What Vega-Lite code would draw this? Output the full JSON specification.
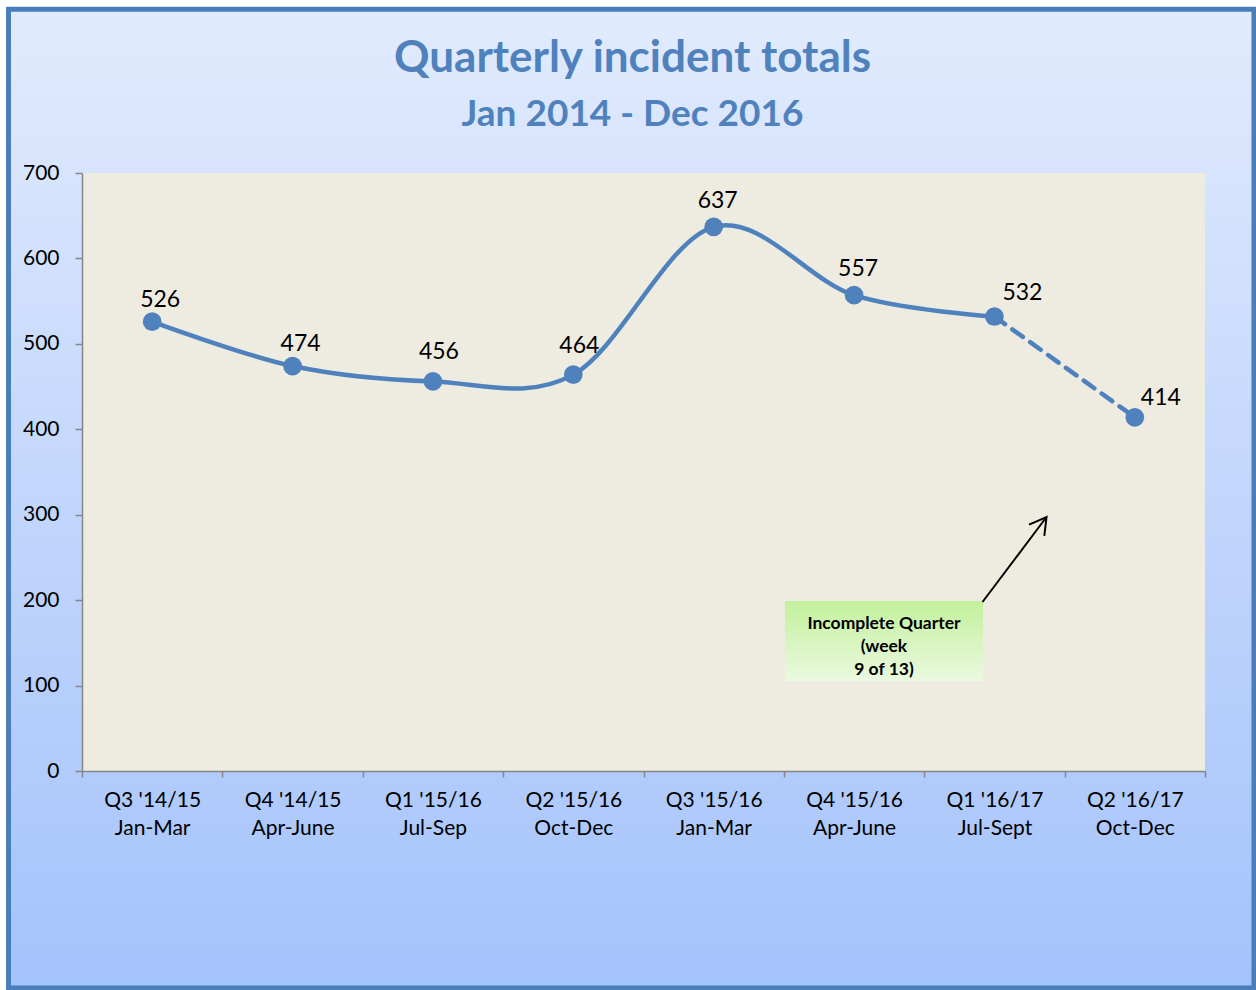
{
  "$schema": "https://vega.github.io/schema/vega-lite/v6.json",
  "width": 1123,
  "height": 598,
  "autosize": {"type": "none"},
  "padding": {"left": 82, "top": 173, "right": 51, "bottom": 219},
  "background": "#ffffff",
  "title": {
    "text": "Quarterly incident totals",
    "subtitle": "Jan 2014 - Dec 2016",
    "anchor": "middle",
    "dx": -11,
    "dy": 126,
    "offset": 0,
    "font": "Lato",
    "fontSize": 44,
    "fontWeight": "bold",
    "color": "#4f81bd",
    "subtitleFont": "Lato",
    "subtitleFontSize": 37,
    "subtitleFontWeight": "bold",
    "subtitleColor": "#4f81bd",
    "subtitlePadding": 16
  },
  "datasets": {
    "quarters": [
      {"idx": 0, "quarter": "Q3 '14/15", "months": "Jan-Mar", "incidents": 526},
      {"idx": 1, "quarter": "Q4 '14/15", "months": "Apr-June", "incidents": 474},
      {"idx": 2, "quarter": "Q1 '15/16", "months": "Jul-Sep", "incidents": 456},
      {"idx": 3, "quarter": "Q2 '15/16", "months": "Oct-Dec", "incidents": 464},
      {"idx": 4, "quarter": "Q3 '15/16", "months": "Jan-Mar", "incidents": 637},
      {"idx": 5, "quarter": "Q4 '15/16", "months": "Apr-June", "incidents": 557},
      {"idx": 6, "quarter": "Q1 '16/17", "months": "Jul-Sept", "incidents": 532},
      {"idx": 7, "quarter": "Q2 '16/17", "months": "Oct-Dec", "incidents": 414}
    ],
    "note": [{"label": "Incomplete Quarter\n(week\n9 of 13)"}]
  },
  "data": {"name": "quarters"},
  "resolve": {"axis": {"x": "independent", "y": "independent"}},
  "layer": [
    {
      "data": {"name": "note"},
      "mark": {
        "type": "rect",
        "clip": false,
        "stroke": "#4a7ebb",
        "strokeWidth": 5,
        "fill": {
          "gradient": "linear",
          "x1": 0, "y1": 0, "x2": 0, "y2": 1,
          "stops": [
            {"offset": 0, "color": "#e1ebfd"},
            {"offset": 1, "color": "#a4c2fb"}
          ]
        }
      },
      "encoding": {
        "x": {"datum": -1.0236, "type": "quantitative", "scale": {"domain": [-0.5, 7.5]}, "axis": null},
        "x2": {"datum": 7.849},
        "y": {"datum": 891.7, "type": "quantitative", "scale": {"domain": [0, 700]}, "axis": null},
        "y2": {"datum": -254.0}
      }
    },
    {
      "data": {"name": "note"},
      "mark": {"type": "rect", "fill": "#eeece1"},
      "encoding": {
        "x": {"datum": -0.5, "type": "quantitative", "scale": {"domain": [-0.5, 7.5]}, "axis": null},
        "x2": {"datum": 7.5},
        "y": {"datum": 0, "type": "quantitative", "scale": {"domain": [0, 700]}, "axis": null},
        "y2": {"datum": 700}
      }
    },
    {
      "data": {"name": "note"},
      "mark": {
        "type": "rect",
        "fill": {
          "gradient": "linear",
          "x1": 0, "y1": 0, "x2": 0, "y2": 1,
          "stops": [
            {"offset": 0, "color": "#c3f09c"},
            {"offset": 1, "color": "#eaf9e0"}
          ]
        }
      },
      "encoding": {
        "x": {"datum": 4.508, "type": "quantitative", "scale": {"domain": [-0.5, 7.5]}, "axis": null},
        "x2": {"datum": 5.9185},
        "y": {"datum": 199.0, "type": "quantitative", "scale": {"domain": [0, 700]}, "axis": null},
        "y2": {"datum": 105.4}
      }
    },
    {
      "data": {"name": "note"},
      "mark": {"type": "text", "font": "Lato", "fontSize": 17.5, "fontWeight": "bold", "color": "#000000", "lineBreak": "\n", "lineHeight": 23, "align": "center", "baseline": "middle"},
      "encoding": {
        "x": {"datum": 5.213, "type": "quantitative", "scale": {"domain": [-0.5, 7.5]}, "axis": null},
        "y": {"datum": 172.5, "type": "quantitative", "scale": {"domain": [0, 700]}, "axis": null},
        "text": {"field": "label"}
      }
    },
    {
      "data": {"name": "note"},
      "mark": {"type": "rule", "color": "#000000", "strokeWidth": 2},
      "encoding": {
        "x": {"datum": 5.915, "type": "quantitative", "scale": {"domain": [-0.5, 7.5]}, "axis": null},
        "x2": {"datum": 6.371},
        "y": {"datum": 197.8, "type": "quantitative", "scale": {"domain": [0, 700]}, "axis": null},
        "y2": {"datum": 297.3}
      }
    },
    {
      "data": {"name": "note"},
      "mark": {"type": "point", "shape": "M-0.5,0.87L0,0L0.5,0.87", "filled": false, "stroke": "#000000", "strokeWidth": 2, "size": 1444, "angle": 36.5, "opacity": 1},
      "encoding": {
        "x": {"datum": 6.371, "type": "quantitative", "scale": {"domain": [-0.5, 7.5]}, "axis": null},
        "y": {"datum": 297.3, "type": "quantitative", "scale": {"domain": [0, 700]}, "axis": null}
      }
    },
    {
      "transform": [{"filter": "datum.idx <= 6"}],
      "mark": {"type": "line", "interpolate": "cardinal", "tension": 0, "color": "#4f81bd", "strokeWidth": 4.5},
      "encoding": {
        "x": {
          "field": "idx", "type": "quantitative", "scale": {"domain": [-0.5, 7.5]},
          "axis": {
            "orient": "bottom",
            "values": [-0.5, 0.5, 1.5, 2.5, 3.5, 4.5, 5.5, 6.5, 7.5],
            "labels": false,
            "grid": false,
            "title": null,
            "domain": true,
            "domainColor": "#868686",
            "domainWidth": 1.5,
            "ticks": true,
            "tickSize": 6,
            "tickColor": "#868686",
            "tickWidth": 1.5,
            "zindex": 1
          }
        },
        "y": {
          "field": "incidents", "type": "quantitative", "scale": {"domain": [0, 700]},
          "axis": {
            "values": [0, 100, 200, 300, 400, 500, 600, 700],
            "grid": false,
            "title": null,
            "domain": true,
            "domainColor": "#868686",
            "domainWidth": 1.5,
            "tickSize": 7,
            "tickColor": "#868686",
            "tickWidth": 1.5,
            "labelFont": "Lato",
            "labelFontSize": 21,
            "labelColor": "#000000",
            "labelPadding": 16,
            "zindex": 1
          }
        }
      }
    },
    {
      "transform": [{"filter": "datum.idx >= 6"}],
      "mark": {"type": "line", "color": "#4f81bd", "strokeWidth": 4.5, "strokeDash": [13, 9], "strokeCap": "round"},
      "encoding": {
        "x": {"field": "idx", "type": "quantitative", "scale": {"domain": [-0.5, 7.5]}, "axis": null},
        "y": {"field": "incidents", "type": "quantitative", "scale": {"domain": [0, 700]}, "axis": null}
      }
    },
    {
      "mark": {"type": "point", "filled": true, "color": "#4f81bd", "size": 350, "opacity": 1},
      "encoding": {
        "x": {
          "field": "idx", "type": "quantitative", "scale": {"domain": [-0.5, 7.5]},
          "axis": {
            "orient": "bottom",
            "values": [0, 1, 2, 3, 4, 5, 6, 7],
            "labelExpr": "[[\"Q3 '14/15\",\"Jan-Mar\"],[\"Q4 '14/15\",\"Apr-June\"],[\"Q1 '15/16\",\"Jul-Sep\"],[\"Q2 '15/16\",\"Oct-Dec\"],[\"Q3 '15/16\",\"Jan-Mar\"],[\"Q4 '15/16\",\"Apr-June\"],[\"Q1 '16/17\",\"Jul-Sept\"],[\"Q2 '16/17\",\"Oct-Dec\"]][datum.value]",
            "grid": false,
            "title": null,
            "domain": false,
            "ticks": false,
            "tickSize": 0,
            "labelFont": "Lato",
            "labelFontSize": 21,
            "labelColor": "#000000",
            "labelLineHeight": 28,
            "labelPadding": 18,
            "labelBaseline": "top",
            "zindex": 1
          }
        },
        "y": {"field": "incidents", "type": "quantitative", "scale": {"domain": [0, 700]}, "axis": null}
      }
    },
    {
      "transform": [{"filter": "datum.idx <= 1"}],
      "mark": {"type": "text", "font": "Lato", "fontSize": 23, "color": "#000000", "align": "center", "baseline": "middle", "dx": 8, "dy": -22},
      "encoding": {
        "x": {"field": "idx", "type": "quantitative", "scale": {"domain": [-0.5, 7.5]}, "axis": null},
        "y": {"field": "incidents", "type": "quantitative", "scale": {"domain": [0, 700]}, "axis": null},
        "text": {"field": "incidents", "type": "quantitative"}
      }
    },
    {
      "transform": [{"filter": "datum.idx == 2 || datum.idx == 3"}],
      "mark": {"type": "text", "font": "Lato", "fontSize": 23, "color": "#000000", "align": "center", "baseline": "middle", "dx": 6, "dy": -29},
      "encoding": {
        "x": {"field": "idx", "type": "quantitative", "scale": {"domain": [-0.5, 7.5]}, "axis": null},
        "y": {"field": "incidents", "type": "quantitative", "scale": {"domain": [0, 700]}, "axis": null},
        "text": {"field": "incidents", "type": "quantitative"}
      }
    },
    {
      "transform": [{"filter": "datum.idx == 4 || datum.idx == 5"}],
      "mark": {"type": "text", "font": "Lato", "fontSize": 23, "color": "#000000", "align": "center", "baseline": "middle", "dx": 4, "dy": -26},
      "encoding": {
        "x": {"field": "idx", "type": "quantitative", "scale": {"domain": [-0.5, 7.5]}, "axis": null},
        "y": {"field": "incidents", "type": "quantitative", "scale": {"domain": [0, 700]}, "axis": null},
        "text": {"field": "incidents", "type": "quantitative"}
      }
    },
    {
      "transform": [{"filter": "datum.idx == 6"}],
      "mark": {"type": "text", "font": "Lato", "fontSize": 23, "color": "#000000", "align": "center", "baseline": "middle", "dx": 28, "dy": -24},
      "encoding": {
        "x": {"field": "idx", "type": "quantitative", "scale": {"domain": [-0.5, 7.5]}, "axis": null},
        "y": {"field": "incidents", "type": "quantitative", "scale": {"domain": [0, 700]}, "axis": null},
        "text": {"field": "incidents", "type": "quantitative"}
      }
    },
    {
      "transform": [{"filter": "datum.idx == 7"}],
      "mark": {"type": "text", "font": "Lato", "fontSize": 23, "color": "#000000", "align": "center", "baseline": "middle", "dx": 26, "dy": -19},
      "encoding": {
        "x": {"field": "idx", "type": "quantitative", "scale": {"domain": [-0.5, 7.5]}, "axis": null},
        "y": {"field": "incidents", "type": "quantitative", "scale": {"domain": [0, 700]}, "axis": null},
        "text": {"field": "incidents", "type": "quantitative"}
      }
    }
  ],
  "config": {
    "view": {"stroke": null},
    "axis": {"zindex": 1}
  }
}
